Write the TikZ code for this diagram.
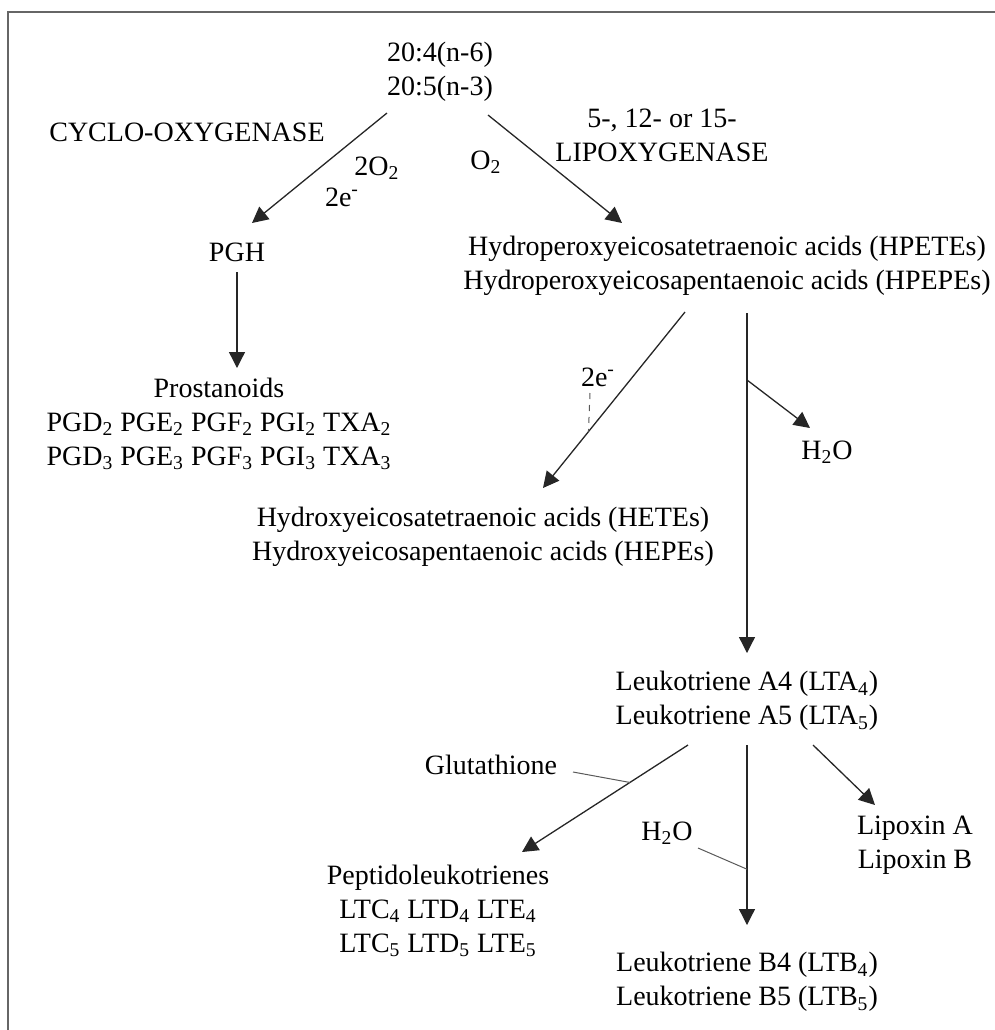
\documentclass[tikz,border=0pt]{standalone}
\usepackage{fontspec}
\setmainfont{Liberation Serif}
\usetikzlibrary{arrows.meta,calc}
\newcommand{\sub}[1]{\textsubscript{#1}}

\begin{document}
\begin{tikzpicture}[x=0.5pt,y=-0.5pt,
    txt/.style={align=center,inner sep=0pt,font=\fontsize{14}{17}\selectfont},
    arr/.style={draw=black!85,line width=0.65pt,-{Triangle[length=8pt,width=8pt]}},
    thinline/.style={draw=black!65,line width=0.5pt}]
    \useasboundingbox (0,0) rectangle (995,1030);
    \draw[black!60,line width=1.4pt] (8,1030) -- (8,12) -- (995,12);

%   substrates and enzymes
    \node[txt] (src) at (440,72) {20:4(n-6)\\20:5(n-3)};
    \node[txt] (cox) at (187,132) {CYCLO-OXYGENASE};
    \node[txt] (lox) at (662,135) {5-, 12- or 15-\\LIPOXYGENASE};
    \node[txt] (o2a) at (377,168) {2O\sub{2}};
    \node[txt] (ea) at (342,197) {2e\textsuperscript{-}};
    \node[txt] (o2b) at (486,162) {O\sub{2}};

%   cyclo-oxygenase side
    \node[txt] (pgh) at (237,252) {PGH};
    \node[txt] (prost) at (219,424) {Prostanoids\\
        PGD\sub{2} PGE\sub{2} PGF\sub{2} PGI\sub{2} TXA\sub{2}\\
        PGD\sub{3} PGE\sub{3} PGF\sub{3} PGI\sub{3} TXA\sub{3}};

%   lipoxygenase side
    \node[txt] (hpete) at (727,266) {Hydroperoxyeicosatetraenoic acids (HPETEs)\\
        Hydroperoxyeicosapentaenoic acids (HPEPEs)};
    \node[txt] (eb) at (598,377) {2e\textsuperscript{-}};
    \node[txt] (water1) at (827,452) {H\sub{2}O};
    \node[txt] (hete) at (483,537) {Hydroxyeicosatetraenoic acids (HETEs)\\
        Hydroxyeicosapentaenoic acids (HEPEs)};

%   leukotrienes
    \node[txt] (lta) at (747,701) {Leukotriene A4 (LTA\sub{4})\\Leukotriene A5 (LTA\sub{5})};
    \node[txt] (glu) at (491,765) {Glutathione};
    \node[txt] (water2) at (667,833) {H\sub{2}O};
    \node[txt] (lipox) at (915,845) {Lipoxin A\\Lipoxin B};
    \node[txt] (pept) at (438,911) {Peptidoleukotrienes\\
        LTC\sub{4} LTD\sub{4} LTE\sub{4}\\LTC\sub{5} LTD\sub{5} LTE\sub{5}};
    \node[txt] (ltb) at (747,982) {Leukotriene B4 (LTB\sub{4})\\Leukotriene B5 (LTB\sub{5})};

%   arrows
    \draw[arr] ($(src)+(-53,41)$) -- ($(pgh)+(15,-29)$);
    \draw[arr] ($(src)+(48,43)$) -- ($(hpete)+(-105,-43)$);
    \draw[arr] ($(pgh)+(0,20)$) -- ($(prost)+(18,-56)$);
    \draw[arr] ($(hpete)+(-42,46)$) -- ($(hete)+(60,-49)$) coordinate[pos=0.68] (hit1);
    \draw[arr] ($(hpete)+(20,47)$) -- ($(lta)+(0,-48)$) coordinate[pos=0.197] (fork1);
    \draw[arr] (fork1) -- ($(water1)+(-17,-24)$);
    \draw[thinline,dashed] ($(eb)+(-8,16)$) -- (hit1);

    \draw[arr] ($(lta)+(-59,44)$) -- ($(pept)+(84,-59)$) coordinate[pos=0.35] (hit2);
    \draw[thinline] ($(glu)+(82,7)$) -- (hit2);
    \draw[arr] ($(lta)+(0,44)$) -- ($(ltb)+(0,-57)$) coordinate[pos=0.69] (hit3);
    \draw[thinline] ($(water2)+(31,15)$) -- (hit3);
    \draw[arr] ($(lta)+(66,44)$) -- ($(lipox)+(-40,-40)$);
\end{tikzpicture}
\end{document}
